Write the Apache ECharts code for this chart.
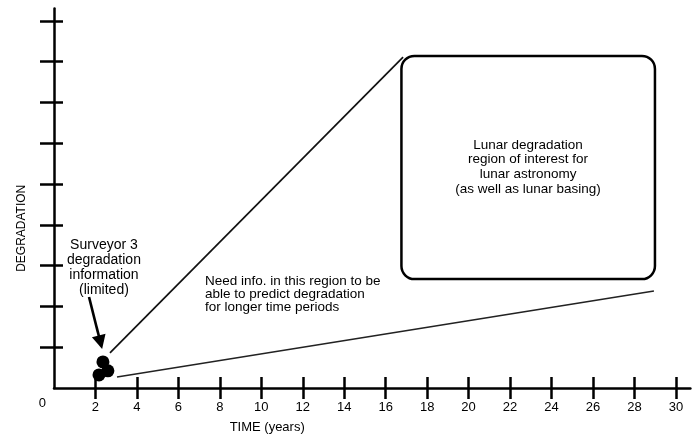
<!DOCTYPE html>
<html>
<head>
<meta charset="utf-8">
<script src="https://cdn.jsdelivr.net/npm/echarts@6/dist/echarts.min.js"></script>
<style>
  html, body { margin: 0; padding: 0; background: #fff; }
  #chart { width: 696px; height: 434px; }
</style>
</head>
<body>
<div id="chart"></div>
<script>
// ---- data ----
var xTicks = [2, 4, 6, 8, 10, 12, 14, 16, 18, 20, 22, 24, 26, 28, 30];
var yTicks = [1, 2, 3, 4, 5, 6, 7, 8, 9];
var xRange = [0, 30.7];
var yRange = [0, 9.3];

// Surveyor 3 degradation points (years, degradation units)
var surveyorX = [2.36, 2.17, 2.60];
var surveyorY = [0.64, 0.32, 0.42];

// extrapolation bounding lines
var upperLineX = [2.70, 16.84];
var upperLineY = [0.86, 8.11];
var lowerLineX = [3.04, 28.94];
var lowerLineY = [0.27, 2.38];

// arrow from note to data
var arrowX = [1.69, 2.24];
var arrowY = [2.23, 1.12];

// region of interest box: [xMin, yMin, xMax, yMax]
var regionBox = [16.76, 2.67, 28.99, 8.14];

// notes
var noteText = [
  'Surveyor 3\ndegradation\ninformation\n(limited)',
  'Need info. in this region to be\nable to predict degradation\nfor longer time periods',
  'Lunar degradation\nregion of interest for\nlunar astronomy\n(as well as lunar basing)'
];
var noteX = [2.41, 7.28, 22.87];
var noteY = [2.94, 2.30, 5.42];

// ---- chart ----
var FONT = '"Liberation Sans", Arial, Helvetica, sans-serif';
var noteStyles = [
  { align: 'center', fontSize: 14, lineHeight: 15 },
  { align: 'left', fontSize: 13.5, lineHeight: 12.8 },
  { align: 'center', fontSize: 13.5, lineHeight: 14.7 }
];

function pairs(xs, ys) { return xs.map(function (x, i) { return [x, ys[i]]; }); }

var chart = echarts.init(document.getElementById('chart'), null, { renderer: 'canvas' });

var axisLineStyle = { color: '#000', width: 2.5 };
var tickStyle = { color: '#000', width: 2.5 };

var option = {
  backgroundColor: '#fff',
  animation: false,
  grid: { left: 54, right: 5.6, top: 8.6, bottom: 46, containLabel: false, outerBoundsMode: 'none' },
  xAxis: [
    {
      type: 'value', min: xRange[0], max: xRange[1], position: 'bottom',
      name: 'TIME (years)', nameLocation: 'middle', nameGap: 33,
      nameTextStyle: { color: '#000', fontSize: 13, fontFamily: FONT, padding: [0, 210, 0, 0] },
      axisLine: { show: true, onZero: true, lineStyle: axisLineStyle },
      axisTick: { show: true, length: 11, lineStyle: tickStyle, customValues: xTicks },
      axisLabel: { show: true, customValues: xTicks, color: '#000', fontSize: 13, fontFamily: FONT, margin: 13 },
      splitLine: { show: false }
    },
    {
      type: 'value', min: xRange[0], max: xRange[1], position: 'top',
      axisLine: { show: false, onZero: true },
      axisTick: { show: true, length: 11, lineStyle: tickStyle, customValues: xTicks },
      axisLabel: { show: false },
      splitLine: { show: false }
    }
  ],
  yAxis: [
    {
      type: 'value', min: yRange[0], max: yRange[1], position: 'left',
      name: 'DEGRADATION', nameLocation: 'middle', nameGap: 26,
      nameTextStyle: { color: '#000', fontSize: 12, fontFamily: FONT, padding: [0, 60, 0, 0] },
      axisLine: { show: true, onZero: true, lineStyle: axisLineStyle },
      axisTick: { show: true, length: 14, lineStyle: tickStyle, customValues: yTicks },
      axisLabel: { show: true, customValues: [0], color: '#000', fontSize: 13, fontFamily: FONT,
                   margin: 8, verticalAlign: 'top', padding: [9, 0, 0, 0] },
      splitLine: { show: false }
    },
    {
      type: 'value', min: yRange[0], max: yRange[1], position: 'right',
      axisLine: { show: false, onZero: true },
      axisTick: { show: true, length: 9, lineStyle: tickStyle, customValues: yTicks },
      axisLabel: { show: false },
      splitLine: { show: false }
    }
  ],
  series: [
    {
      type: 'line', name: 'upper bound', data: pairs(upperLineX, upperLineY),
      showSymbol: false, symbol: 'none', silent: true,
      lineStyle: { color: '#111', width: 1.7 }
    },
    {
      type: 'line', name: 'lower bound', data: pairs(lowerLineX, lowerLineY),
      showSymbol: false, symbol: 'none', silent: true,
      lineStyle: { color: '#222', width: 1.5 }
    },
    {
      type: 'lines', coordinateSystem: 'cartesian2d', silent: true,
      symbol: ['none', 'triangle'], symbolSize: 14,
      lineStyle: { color: '#000', width: 2.6, opacity: 1 },
      data: [{ coords: pairs(arrowX, arrowY) }]
    },
    {
      type: 'scatter', name: 'Surveyor 3', data: pairs(surveyorX, surveyorY),
      symbol: 'circle', symbolSize: 13, itemStyle: { color: '#000', opacity: 1 }
    },
    {
      type: 'custom', name: 'region', silent: true,
      data: [regionBox],
      renderItem: function (params, api) {
        var p1 = api.coord([api.value(0), api.value(3)]);
        var p2 = api.coord([api.value(2), api.value(1)]);
        return {
          type: 'rect',
          shape: { x: p1[0], y: p1[1], width: p2[0] - p1[0], height: p2[1] - p1[1], r: 13 },
          style: { fill: 'none', stroke: '#000', lineWidth: 2.5 }
        };
      }
    },
    {
      type: 'custom', name: 'notes', silent: true,
      data: pairs(noteX, noteY),
      renderItem: function (params, api) {
        var p = api.coord([api.value(0), api.value(1)]);
        var st = noteStyles[params.dataIndex];
        return {
          type: 'text',
          x: p[0], y: p[1],
          style: {
            text: noteText[params.dataIndex],
            fill: '#000',
            fontSize: st.fontSize,
            lineHeight: st.lineHeight,
            fontFamily: FONT,
            align: st.align,
            verticalAlign: 'middle'
          }
        };
      }
    }
  ]
};
chart.setOption(option);
</script>
</body>
</html>
